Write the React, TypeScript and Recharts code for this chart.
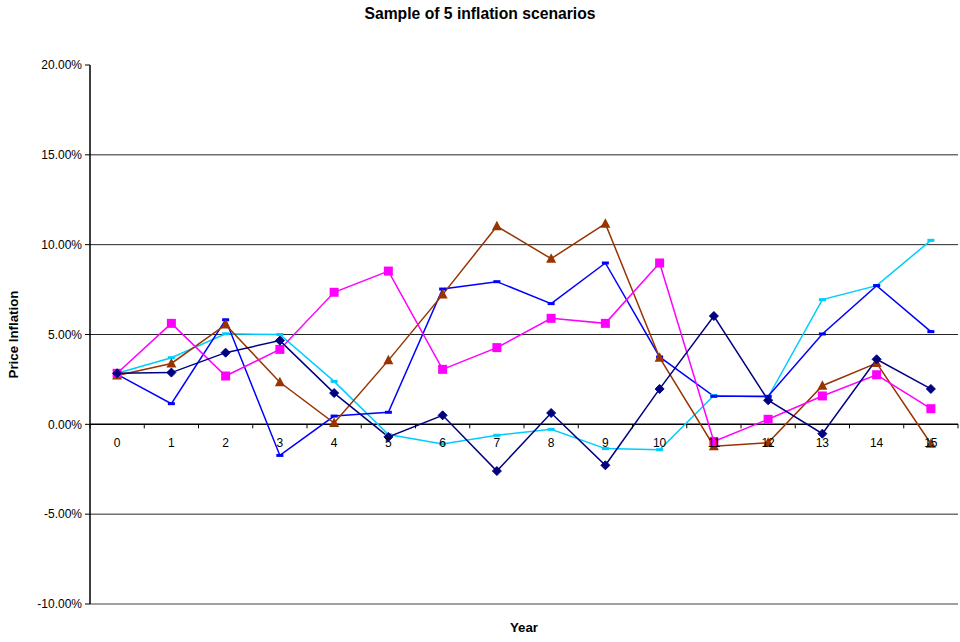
import React from 'react';
import { LineChart, Line, XAxis, YAxis, CartesianGrid, ReferenceLine } from 'recharts';

const years = ['0', '1', '2', '3', '4', '5', '6', '7', '8', '9', '10', '11', '12', '13', '14', '15'];
const navySeries = [2.84, 2.88, 3.99, 4.66, 1.74, -0.7, 0.5, -2.6, 0.63, -2.28, 1.97, 6.03, 1.34, -0.52, 3.62, 1.97];
const magentaSeries = [2.84, 5.62, 2.69, 4.17, 7.35, 8.53, 3.06, 4.27, 5.9, 5.62, 8.98, -0.95, 0.28, 1.58, 2.76, 0.87];
const brownSeries = [2.72, 3.39, 5.55, 2.34, 0.07, 3.56, 7.22, 11.02, 9.22, 11.17, 3.71, -1.22, -1.02, 2.15, 3.41, -1.08];
const blueSeries = [2.78, 1.15, 5.82, -1.73, 0.46, 0.67, 7.53, 7.94, 6.72, 8.98, 3.75, 1.56, 1.56, 5.03, 7.72, 5.16];
const cyanSeries = [2.84, 3.71, 5.04, 5.0, 2.39, -0.57, -1.09, -0.61, -0.28, -1.35, -1.41, 1.61, 1.52, 6.94, 7.72, 10.24];
const yTicks = [-10, -5, 0, 5, 10, 15, 20];
const gridValues = [-5, 5, 10, 15];

const W = 960;
const H = 642;
const X_AXIS_H = 38;
const M = { top: 65, right: 2, bottom: 0, left: 20 };
const Y_AXIS_W = 70;
const PLOT_LEFT = M.left + Y_AXIS_W;
const PLOT_W = W - PLOT_LEFT - M.right;
const PLOT_H = H - M.top - M.bottom - X_AXIS_H;
const Y_MIN = -10;
const Y_MAX = 20;
const FONT = 'Arial, "Liberation Sans", sans-serif';

const data = years.map((y, i) => ({
  year: y,
  navy: navySeries[i],
  magenta: magentaSeries[i],
  brown: brownSeries[i],
  blue: blueSeries[i],
  cyan: cyanSeries[i],
}));

const zeroY = M.top + (PLOT_H * (Y_MAX - 0)) / (Y_MAX - Y_MIN);
const band = PLOT_W / years.length;

const XTick = (props: any) => {
  const { x, payload, index } = props;
  return (
    <g>
      <line x1={x - band / 2} x2={x - band / 2} y1={zeroY} y2={zeroY + 4} stroke="#000" strokeWidth={1} />
      {index === years.length - 1 && (
        <line x1={x + band / 2} x2={x + band / 2} y1={zeroY} y2={zeroY + 4} stroke="#000" strokeWidth={1} />
      )}
      <text x={x} y={zeroY + 23} textAnchor="middle" fontSize={12} fontFamily={FONT} fill="#000">
        {payload.value}
      </text>
    </g>
  );
};

const Diamond = (props: any) => {
  const { cx, cy, fill } = props;
  if (cx == null || cy == null) return null;
  const r = 4.5;
  return <path d={`M${cx},${cy - r}L${cx + r},${cy}L${cx},${cy + r}L${cx - r},${cy}Z`} fill={fill} stroke={fill} />;
};
const Square = (props: any) => {
  const { cx, cy, fill } = props;
  if (cx == null || cy == null) return null;
  return <rect x={cx - 4.5} y={cy - 4.5} width={9} height={9} fill={fill} />;
};
const Triangle = (props: any) => {
  const { cx, cy, fill } = props;
  if (cx == null || cy == null) return null;
  return <path d={`M${cx},${cy - 5.5}L${cx + 5},${cy + 4}L${cx - 5},${cy + 4}Z`} fill={fill} />;
};
const Dash = (props: any) => {
  const { cx, cy, fill } = props;
  if (cx == null || cy == null) return null;
  return <rect x={cx - 3.5} y={cy - 1.5} width={7} height={3} fill={fill} />;
};

export default function App() {
  return (
    <div style={{ position: 'absolute', left: 0, top: 0, width: W, height: H, background: '#fff' }}>
      <div
        style={{
          position: 'absolute',
          left: 0,
          top: 5,
          width: W,
          textAlign: 'center',
          fontFamily: FONT,
          fontWeight: 'bold',
          fontSize: 15.7,
        }}
      >
        Sample of 5 inflation scenarios
      </div>
      <LineChart width={W} height={H} data={data} margin={M}>
        <CartesianGrid vertical={false} horizontalValues={gridValues} stroke="#000" strokeOpacity={0.85} />
        <XAxis
          dataKey="year"
          scale="band"
          axisLine={{ stroke: '#808080', strokeWidth: 1.5 }}
          tickLine={false}
          tick={<XTick />}
          interval={0}
          height={X_AXIS_H}
          label={{ value: 'Year', position: 'insideBottom', offset: 10, fontSize: 13.3, fontWeight: 'bold', fontFamily: FONT, fill: '#000' }}
        />
        <XAxis xAxisId="top" dataKey="year" scale="band" orientation="top" axisLine={{ stroke: '#808080', strokeWidth: 1.5 }} tick={false} tickLine={false} height={0} />
        <YAxis
          domain={[Y_MIN, Y_MAX]}
          ticks={yTicks}
          width={Y_AXIS_W}
          axisLine={{ stroke: '#000', strokeWidth: 1.5 }}
          tickLine={{ stroke: '#000' }}
          tickSize={5}
          tickMargin={3}
          tickFormatter={(v: number) => v.toFixed(2) + '%'}
          tick={{ fontSize: 12, fontFamily: FONT, fill: '#000' }}
          label={{ value: 'Price Inflation', angle: -90, position: 'insideLeft', offset: -7, fontSize: 13.3, fontWeight: 'bold', fontFamily: FONT, fill: '#000', style: { textAnchor: 'middle' } }}
          allowDataOverflow
        />
        <YAxis yAxisId="right" orientation="right" width={0} axisLine={{ stroke: '#808080', strokeWidth: 1.5 }} tick={false} tickLine={false} domain={[Y_MIN, Y_MAX]} />
        <ReferenceLine y={0} stroke="#000" strokeWidth={1.5} />
        <Line dataKey="cyan" stroke="#00CCFF" strokeWidth={1.5} fill="#00CCFF" dot={<Dash />} isAnimationActive={false} activeDot={false} />
        <Line dataKey="blue" stroke="#0000FF" strokeWidth={1.5} fill="#0000FF" dot={<Dash />} isAnimationActive={false} activeDot={false} />
        <Line dataKey="brown" stroke="#993300" strokeWidth={1.5} fill="#993300" dot={<Triangle />} isAnimationActive={false} activeDot={false} />
        <Line dataKey="magenta" stroke="#FF00FF" strokeWidth={1.5} fill="#FF00FF" dot={<Square />} isAnimationActive={false} activeDot={false} />
        <Line dataKey="navy" stroke="#000080" strokeWidth={1.5} fill="#000080" dot={<Diamond />} isAnimationActive={false} activeDot={false} />
      </LineChart>
    </div>
  );
}
